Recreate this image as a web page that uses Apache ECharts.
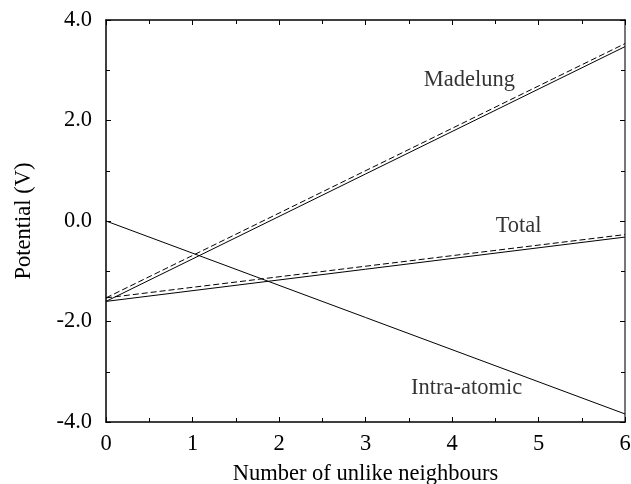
<!DOCTYPE html>
<html>
<head>
<meta charset="utf-8">
<script src="https://cdn.jsdelivr.net/npm/echarts@6/dist/echarts.min.js"></script>
<style>
  html, body { margin: 0; padding: 0; background: #fff; }
  #chart { width: 631px; height: 484px; }
</style>
</head>
<body>
<div id="chart"></div>
<script>
// endpoints at 0 and 6 unlike neighbours
const xEnds = [0, 6];
const madelungSolid = [-1.60, 3.47];
const madelungDashed = [-1.53, 3.53];
const totalSolid = [-1.60, -0.32];
const totalDashed = [-1.53, -0.27];
const intraAtomic = [0.0, -3.84];

// curve labels: [x, y, text] in data units
const curveLabels = [
    [4.2, 2.8, 'Madelung'],
    [4.77, -0.1, 'Total'],
    [4.17, -3.32, 'Intra-atomic']
];

const FONT = 'Liberation Serif';
const FS = 22.5;

function pairs(ys) {
    return xEnds.map((x, i) => [x, ys[i]]);
}

function lineSeries(ys, dashed) {
    return {
        type: 'line',
        data: pairs(ys),
        symbol: 'none',
        silent: true,
        lineStyle: {
            color: '#000',
            width: 1,
            type: dashed ? [6, 3] : 'solid'
        }
    };
}

document.addEventListener('DOMContentLoaded', function() {
    const chart = echarts.init(document.getElementById('chart'));

    const baseAxis = {
        axisLine: { show: true, onZero: false, lineStyle: { color: '#000', width: 1.5 } },
        axisTick: { show: true, inside: true, length: 5, lineStyle: { color: '#000' } },
        minorTick: { show: true, splitNumber: 2, length: 4, lineStyle: { color: '#000' } },
        splitLine: { show: false },
        axisLabel: { color: '#000', fontFamily: FONT, fontSize: FS }
    };

    const option = {
        animation: false,
        backgroundColor: '#fff',
        grid: { left: 106, right: 6, top: 20, bottom: 62, outerBoundsMode: 'none', containLabel: false },
        xAxis: [
            Object.assign({}, baseAxis, {
                type: 'value', min: 0, max: 6, interval: 1,
                name: 'Number of unlike neighbours',
                nameLocation: 'middle', nameGap: 41,
                nameTextStyle: { color: '#000', fontFamily: FONT, fontSize: FS },
                axisLabel: Object.assign({}, baseAxis.axisLabel, { margin: 11 })
            }),
            Object.assign({}, baseAxis, {
                type: 'value', min: 0, max: 6, interval: 1, position: 'top',
                axisLabel: { show: false }
            })
        ],
        yAxis: [
            Object.assign({}, baseAxis, {
                type: 'value', min: -4, max: 4, interval: 2,
                name: 'Potential (V)',
                nameLocation: 'middle', nameGap: 70,
                nameTextStyle: { color: '#000', fontFamily: FONT, fontSize: FS },
                axisLabel: Object.assign({}, baseAxis.axisLabel, {
                    margin: 14,
                    formatter: v => v.toFixed(1)
                })
            }),
            Object.assign({}, baseAxis, {
                type: 'value', min: -4, max: 4, interval: 2, position: 'right',
                axisLine: { show: true, onZero: false, lineStyle: { color: '#777', width: 2 } },
                axisLabel: { show: false }
            })
        ],
        series: [
            lineSeries(madelungSolid, false),
            lineSeries(madelungDashed, true),
            lineSeries(totalSolid, false),
            lineSeries(totalDashed, true),
            lineSeries(intraAtomic, false),
            {
                type: 'scatter',
                symbolSize: 0,
                silent: true,
                data: curveLabels.map(l => ({ value: [l[0], l[1]], name: l[2] })),
                label: {
                    show: true,
                    position: 'inside',
                    formatter: p => p.name,
                    color: '#000',
                    fontFamily: FONT,
                    fontSize: FS
                }
            }
        ]
    };
    chart.setOption(option);

    window.addEventListener('resize', function() {
        chart.resize();
    });
});
</script>
</body>
</html>
